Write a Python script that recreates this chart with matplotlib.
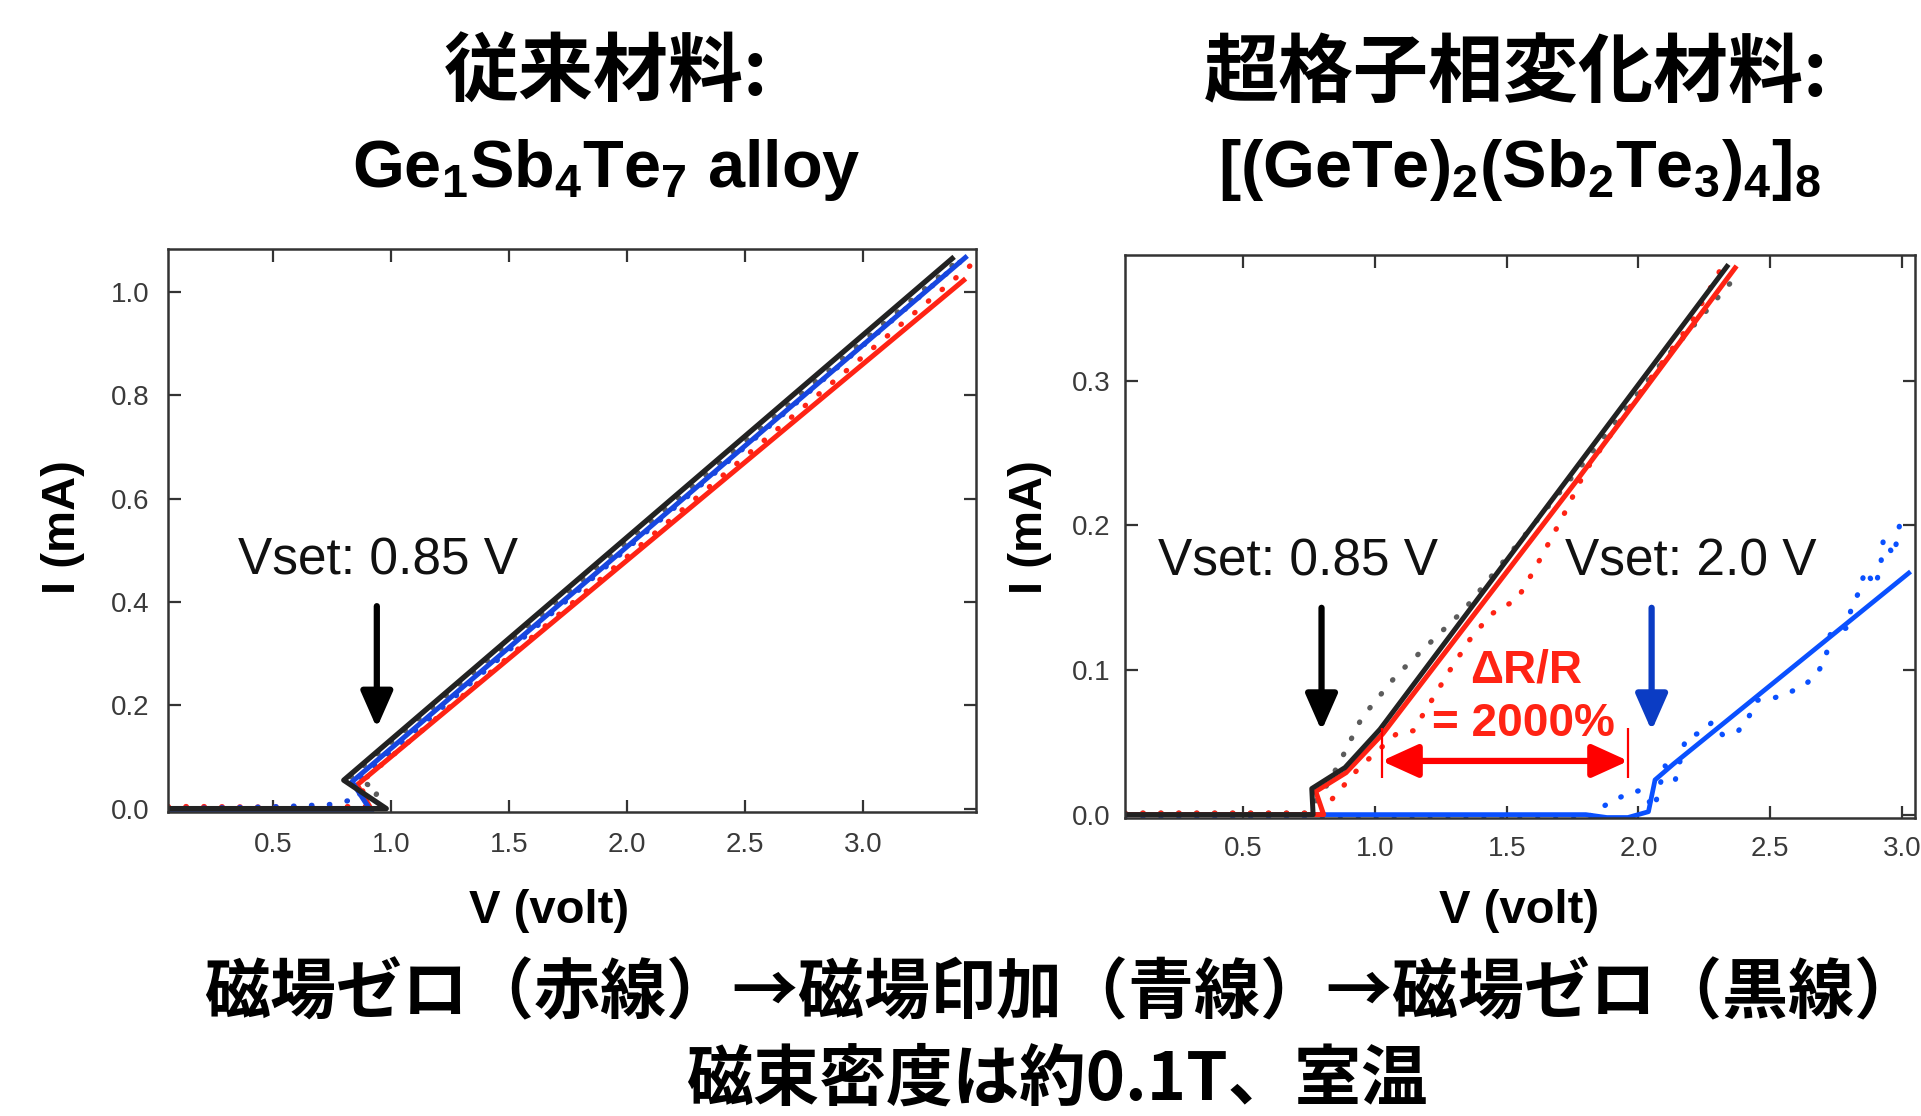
import matplotlib
matplotlib.use("Agg")
import matplotlib.pyplot as plt

# fonts: latin text in Liberation Sans, japanese in Noto Sans CJK JP
plt.rcParams['font.family'] = ['Liberation Sans', 'Noto Sans CJK JP', 'DejaVu Sans']
plt.rcParams['mathtext.default'] = 'regular'

JP_FONT = ['Noto Sans CJK JP', 'DejaVu Sans']
LATIN_FONT = ['Liberation Sans', 'DejaVu Sans']

RED = '#ff2314'
BLUE_L = '#1746e0'
BLUE_R = '#0a50ff'
BLUE_ARROW = '#0b3cc4'
BLACK = '#222222'
GREY = '#5c5c5c'

# ---------------- left panel: Ge1Sb4Te7 alloy (I in mA, V in volt) ----------------
left_red_v = [0.055, 0.915, 0.857, 3.426]
left_red_i = [0.0, 0.0, 0.046, 1.023]
left_blue_v = [0.055, 0.92, 0.835, 3.433]
left_blue_i = [-0.008, -0.008, 0.052, 1.067]
left_black_v = [0.055, 0.98, 0.80, 3.377]
left_black_i = [0.0, 0.0, 0.055, 1.065]

left_red_dot_v = [0.055, 0.20, 0.45, 0.75, 0.90, 0.87, 3.466]
left_red_dot_i = [0.004, 0.004, 0.003, 0.004, 0.004, 0.05, 1.056]
left_blue_dot_v = [0.055, 0.455, 0.60, 0.74, 0.87, 0.86, 3.44]
left_blue_dot_i = [0.0, 0.003, 0.005, 0.008, 0.02, 0.055, 1.07]
left_grey_dot_v = [0.055, 0.90, 0.95, 0.83, 3.43]
left_grey_dot_i = [0.002, 0.002, 0.036, 0.062, 1.072]

left_xticks = [0.5, 1.0, 1.5, 2.0, 2.5, 3.0]
left_yticks = [0.0, 0.2, 0.4, 0.6, 0.8, 1.0]

# ---------------- right panel: [(GeTe)2(Sb2Te3)4]8 superlattice ----------------
right_black_v = [0.05, 0.765, 0.76, 0.886, 1.019, 2.336]
right_black_i = [0.0, 0.0, 0.018, 0.0325, 0.059, 0.379]
right_red_v = [0.05, 0.805, 0.775, 0.89, 1.03, 1.76, 2.367]
right_red_i = [0.0, 0.0, 0.016, 0.029, 0.056, 0.2296, 0.378]
right_blue_v = [0.05, 1.80, 1.88, 1.96, 2.038, 2.063, 2.133, 3.026]
right_blue_i = [0.0, 0.0, -0.002, -0.002, 0.002, 0.024, 0.035, 0.167]

right_grey_dot_v = [0.05, 0.74, 0.80, 0.86, 0.95, 1.08, 1.21, 1.34, 1.51, 1.80, 2.10, 2.37]
right_grey_dot_i = [0.001, 0.001, 0.015, 0.034, 0.067, 0.096, 0.119, 0.142, 0.180, 0.245, 0.315, 0.372]
right_red_dot_v = [0.05, 0.80, 0.81, 0.94, 1.08, 1.145, 1.215, 1.285, 1.36, 1.44, 1.54, 1.61,
                   1.71, 1.80, 2.00, 2.20, 2.33]
right_red_dot_i = [0.001, 0.001, 0.005, 0.0325, 0.0556, 0.058, 0.079, 0.100, 0.121, 0.1385, 0.149,
                   0.171, 0.205, 0.238, 0.290, 0.340, 0.383]
right_blue_dot_v = [0.05, 1.80, 1.89, 1.95, 2.01, 2.06, 2.10, 2.14, 2.18, 2.24, 2.28, 2.32, 2.38,
                    2.42, 2.45, 2.52, 2.58, 2.64, 2.68, 2.71, 2.73, 2.79, 2.81, 2.84, 2.86, 2.90,
                    2.92, 2.93, 2.97, 3.00]
right_blue_dot_i = [-0.003, -0.003, 0.0085, 0.0136, 0.017, 0.004, 0.034, 0.024, 0.053, 0.057,
                    0.064, 0.055, 0.058, 0.068, 0.079, 0.081, 0.085, 0.091, 0.098, 0.108, 0.126,
                    0.129, 0.144, 0.155, 0.169, 0.158, 0.173, 0.191, 0.179, 0.209]

right_xticks = [0.5, 1.0, 1.5, 2.0, 2.5, 3.0]
right_yticks = [0.0, 0.1, 0.2, 0.3]

DOT = dict(linestyle=(0, (0.1, 3.3)), dash_capstyle='round', lw=3.8)


def style_axes(ax, xticks, yticks, xpad, ypad):
    for sp in ax.spines.values():
        sp.set_color('#333333')
        sp.set_linewidth(1.8)
    ax.set_xticks(xticks)
    ax.set_yticks(yticks)
    ax.set_xticklabels([f'{t:.1f}' for t in xticks])
    ax.set_yticklabels([f'{t:.1f}' for t in yticks])
    ax.tick_params(direction='in', top=True, right=True, length=9, width=1.6,
                   color='#333333', labelsize=20, labelcolor='#3a3a3a')
    ax.tick_params(axis='x', pad=xpad)
    ax.tick_params(axis='y', pad=ypad)


def arrow(ax, x, y0, y1, color):
    ax.annotate('', xy=(x, y1), xytext=(x, y0),
                arrowprops=dict(arrowstyle='-|>,head_length=0.5,head_width=0.22', lw=4.5,
                                color=color, mutation_scale=44, shrinkA=0, shrinkB=0))


def plot_left(fig):
    ax = fig.add_axes([0.0874, 0.2722, 0.4209, 0.5049])
    ax.plot(left_grey_dot_v, left_grey_dot_i, color=GREY, **DOT)
    ax.plot(left_red_dot_v, left_red_dot_i, color=RED, **DOT)
    ax.plot(left_blue_dot_v, left_blue_dot_i, color=BLUE_L, **DOT)
    ax.plot(left_red_v, left_red_i, color=RED, lw=3.6)
    ax.plot(left_blue_v, left_blue_i, color=BLUE_L, lw=3.6)
    ax.plot(left_black_v, left_black_i, color=BLACK, lw=3.8)
    ax.set_xlim(0.055, 3.48)
    ax.set_ylim(-0.007, 1.084)
    style_axes(ax, left_xticks, left_yticks, 14, 13)

    ax.text(0.946, 0.479, 'Vset: 0.85 V', ha='center', va='center', fontsize=37, color='#111111')
    arrow(ax, 0.94, 0.392, 0.156, 'black')


def plot_right(fig):
    ax = fig.add_axes([0.5855, 0.2667, 0.4114, 0.5049])
    ax.plot(right_grey_dot_v, right_grey_dot_i, color=GREY, **DOT)
    ax.plot(right_red_dot_v, right_red_dot_i, color=RED, **DOT)
    ax.plot(right_blue_dot_v, right_blue_dot_i, color=BLUE_R, **DOT)
    ax.plot(right_blue_v, right_blue_i, color=BLUE_R, lw=3.4)
    ax.plot(right_red_v, right_red_i, color=RED, lw=3.6)
    ax.plot(right_black_v, right_black_i, color=BLACK, lw=3.6)
    ax.set_xlim(0.05, 3.05)
    ax.set_ylim(-0.0026, 0.387)
    style_axes(ax, right_xticks, right_yticks, 13, 10)

    ax.text(0.706, 0.175, 'Vset: 0.85 V', ha='center', va='center', fontsize=37, color='#111111')
    ax.text(2.20, 0.175, 'Vset: 2.0 V', ha='center', va='center', fontsize=37, color='#111111')
    arrow(ax, 0.797, 0.143, 0.058, 'black')
    arrow(ax, 2.05, 0.143, 0.058, BLUE_ARROW)

    # delta R / R marker between the two set voltages
    ax.annotate('', xy=(1.962, 0.0371), xytext=(1.025, 0.0371),
                arrowprops=dict(arrowstyle='<|-|>,head_length=0.55,head_width=0.25', lw=4.5,
                                color='#ff0000', mutation_scale=40, shrinkA=0, shrinkB=0))
    ax.vlines([1.025, 1.962], 0.0256, 0.060, color='#ff0000', lw=1.6)
    ax.text(1.575, 0.0994, 'ΔR/R', ha='center', va='center', fontsize=33,
            fontweight='bold', color=RED)
    ax.text(1.563, 0.0625, '= 2000%', ha='center', va='center', fontsize=33,
            fontweight='bold', color=RED)


def add_texts(fig):
    fig.text(0.3157, 0.934, '従来材料:', ha='center', va='center', fontsize=54,
             fontweight='bold', family=JP_FONT)
    fig.text(0.3157, 0.832, r'Ge$_1$Sb$_4$Te$_7$ alloy', ha='center', va='baseline',
             fontsize=48, fontweight='bold', family=LATIN_FONT)
    fig.text(0.789, 0.934, '超格子相変化材料:', ha='center', va='center', fontsize=54,
             fontweight='bold', family=JP_FONT)
    fig.text(0.791, 0.832, r'[(GeTe)$_2$(Sb$_2$Te$_3$)$_4$]$_8$', ha='center', va='baseline',
             fontsize=48, fontweight='bold', family=LATIN_FONT)

    for x in (0.033, 0.536):
        fig.text(x, 0.528, 'I (mA)', rotation=90, ha='center', va='center', fontsize=34,
                 fontweight='bold', family=LATIN_FONT)
    for x in (0.2857, 0.791):
        fig.text(x, 0.184, 'V (volt)', ha='center', va='center', fontsize=34,
                 fontweight='bold', family=LATIN_FONT)

    fig.text(0.553, 0.109, '磁場ゼロ（赤線）→磁場印加（青線）→磁場ゼロ（黒線）', ha='center',
             va='center', fontsize=47.5, fontweight='bold', family=JP_FONT)
    fig.text(0.55, 0.032, '磁束密度は約0.1T、室温', ha='center', va='center', fontsize=48,
             fontweight='bold', family=JP_FONT)


def main():
    fig = plt.figure(figsize=(19.21, 11.16), dpi=100)
    plot_left(fig)
    plot_right(fig)
    add_texts(fig)
    fig.savefig('out.png', dpi=100, facecolor='white')
    plt.close(fig)


if __name__ == "__main__":
    main()
